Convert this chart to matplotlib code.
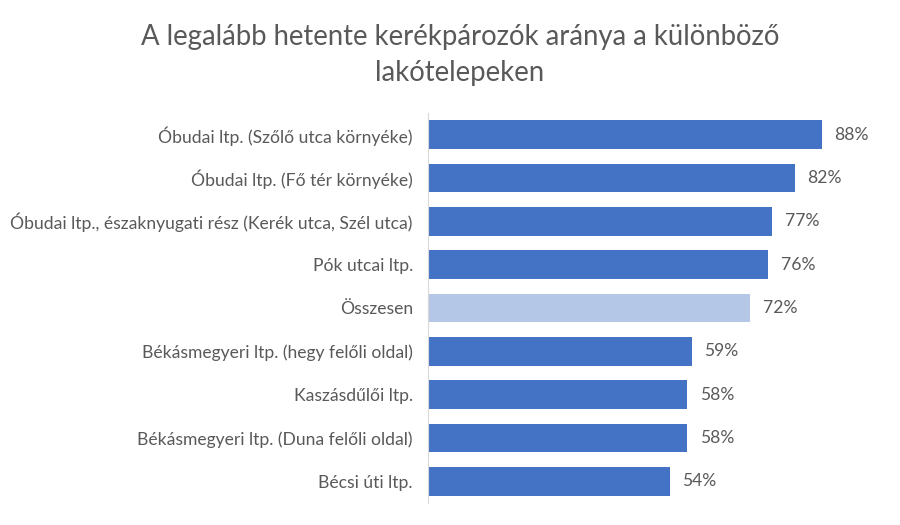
import matplotlib
matplotlib.use("Agg")
import matplotlib.pyplot as plt

plt.rcParams["font.family"] = ["Lato", "DejaVu Sans"]

categories = [
    "Óbudai ltp. (Szőlő utca környéke)",
    "Óbudai ltp. (Fő tér környéke)",
    "Óbudai ltp., északnyugati rész (Kerék utca, Szél utca)",
    "Pók utcai ltp.",
    "Összesen",
    "Békásmegyeri ltp. (hegy felőli oldal)",
    "Kaszásdűlői ltp.",
    "Békásmegyeri ltp. (Duna felőli oldal)",
    "Bécsi úti ltp.",
]
values = [88, 82, 77, 76, 72, 59, 58, 58, 54]
total_label = "Összesen"

BLUE = "#4472c4"
LIGHT = "#b4c7e7"
TEXT = "#595959"

fig = plt.figure(figsize=(9, 5.25), dpi=100)
ax = fig.add_axes([0.4756, 0.042, 0.497, 0.743])

colors = [LIGHT if c == total_label else BLUE for c in categories]
y = range(len(categories))
bars = ax.barh(list(y), values, height=0.66, color=colors)
ax.set_ylim(len(categories) - 0.5, -0.5)
ax.set_xlim(0, 100)

ax.set_yticks(list(y))
ax.set_yticklabels(categories, fontsize=12.6, color=TEXT)
ax.tick_params(axis="y", length=0, pad=11)
ax.set_xticks([])

for b, v in zip(bars, values):
    ax.text(b.get_width() + 2.8, b.get_y() + b.get_height() / 2, f"{v}%",
            va="center", ha="left", fontsize=12.6, color=TEXT)

for side in ["top", "right", "bottom"]:
    ax.spines[side].set_visible(False)
ax.spines["left"].set_color("#d9d9d9")

fig.text(0.511, 0.895, "A legalább hetente kerékpározók aránya a különböző\nlakótelepeken",
         ha="center", va="center", fontsize=19.8, color=TEXT, linespacing=1.45)

fig.savefig("out.png", dpi=100)
